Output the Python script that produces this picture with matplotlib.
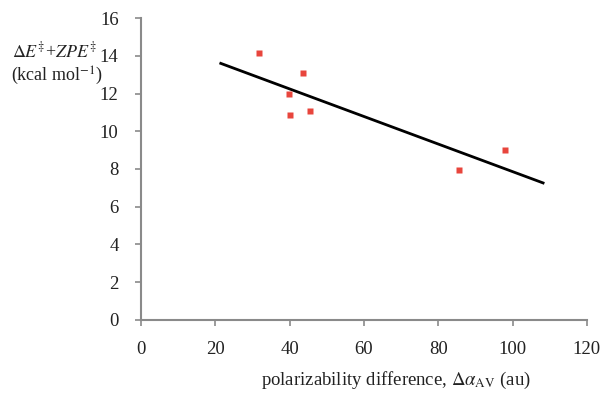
import matplotlib.pyplot as plt
import numpy as np

plt.rcParams['font.family'] = ['Liberation Serif', 'DejaVu Serif']
plt.rcParams['mathtext.fontset'] = 'stix'

# 数据点
pol_diff = [31.7, 43.6, 39.8, 40.1, 45.5, 85.6, 97.9]
energy = [14.15, 13.1, 11.97, 10.86, 11.07, 7.95, 9.0]
# 拟合线
fit_x = [21.5, 108.2]
fit_slope = -0.0731
fit_icpt = 15.17

fig = plt.figure(figsize=(6.02, 3.93), dpi=100)
ax = fig.add_axes([0.234, 0.186, 0.741, 0.768])

fx = np.array(fit_x)
ax.plot(fx, fit_slope * fx + fit_icpt, color='black', lw=2)
ax.plot(pol_diff, energy, 's', color='#e8453c', ms=4.5, mec='none')

ax.set_xlim(0, 120)
ax.set_ylim(0, 16)
ax.set_xticks(range(0, 121, 20))
ax.set_yticks(range(0, 17, 2))
for s in ['top', 'right']:
    ax.spines[s].set_visible(False)
for s in ['left', 'bottom']:
    ax.spines[s].set_color('#8a8a8a')
    ax.spines[s].set_linewidth(1.5)
ax.tick_params(colors='#8a8a8a', labelcolor='#222222', labelsize=13.5, length=4, width=1.2)
ax.tick_params(axis='x', pad=11)
ax.tick_params(axis='y', pad=12)

fig.text(0.09, 0.853, r'$\Delta E^{\ddag}$+$ZPE^{\ddag}$', fontsize=13, ha='center', va='baseline', color='#222222')
fig.text(0.095, 0.795, r'(kcal mol$^{-1}$)', fontsize=13, ha='center', va='baseline', color='#222222')
fig.text(0.658, 0.005, r'polarizability difference, $\Delta\alpha_{\rm AV}$ (au)', fontsize=13.5,
         ha='center', va='bottom', color='#222222')

fig.savefig('out.png', dpi=100)
